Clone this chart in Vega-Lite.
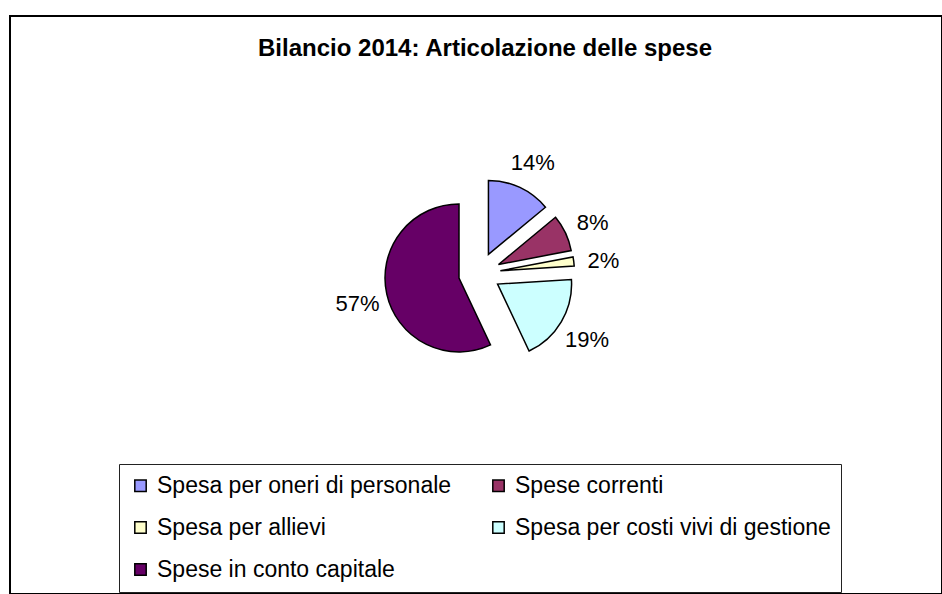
{
  "$schema": "https://vega.github.io/schema/vega-lite/v6.json",
  "width": 932,
  "height": 578,
  "autosize": {"type": "none"},
  "padding": {"left": 10, "top": 16, "right": 0, "bottom": 0},
  "background": "white",
  "config": {"view": {"stroke": "black", "strokeWidth": 2}},
  "title": {
    "text": "Bilancio 2014: Articolazione delle spese",
    "font": "Liberation Sans",
    "fontSize": 24,
    "fontWeight": "bold",
    "color": "black",
    "anchor": "middle",
    "baseline": "alphabetic",
    "offset": -64,
    "dx": 9
  },
  "data": {
    "values": [
      {"voce": "Spesa per oneri di personale", "quota": 0.14, "ordine": 1},
      {"voce": "Spese correnti", "quota": 0.08, "ordine": 2},
      {"voce": "Spesa per allievi", "quota": 0.02, "ordine": 3},
      {"voce": "Spesa per costi vivi di gestione", "quota": 0.19, "ordine": 4},
      {"voce": "Spese in conto capitale", "quota": 0.57, "ordine": 5}
    ]
  },
  "transform": [
    {"stack": "quota", "groupby": [], "sort": [{"field": "ordine", "order": "ascending"}], "as": ["q0", "q1"]},
    {"calculate": "PI*(datum.q0+datum.q1)", "as": "mid"},
    {"calculate": "0.21*sin(datum.mid)", "as": "ex"},
    {"calculate": "0.21*cos(datum.mid)", "as": "ey"},
    {"calculate": "1.25*sin(datum.mid)", "as": "lx"},
    {"calculate": "1.25*cos(datum.mid)", "as": "ly"}
  ],
  "layer": [
    {
      "mark": {"type": "arc", "outerRadius": 74, "stroke": "black", "strokeWidth": 1.5},
      "encoding": {
        "x": {"field": "ex", "type": "quantitative", "axis": null, "scale": {"domain": [-1, 1], "range": [369.5, 569.5], "nice": false, "zero": false}},
        "y": {"field": "ey", "type": "quantitative", "axis": null, "scale": {"domain": [-1, 1], "range": [357.4, 157.4], "nice": false, "zero": false}},
        "theta": {"field": "q0", "type": "quantitative", "stack": null, "scale": {"domain": [0, 1], "range": [0, 6.283185307]}},
        "theta2": {"field": "q1"},
        "color": {
          "field": "voce",
          "type": "nominal",
          "scale": {
            "domain": ["Spesa per oneri di personale", "Spese correnti", "Spesa per allievi", "Spesa per costi vivi di gestione", "Spese in conto capitale"],
            "range": ["#9999FF", "#993366", "#FFFFCC", "#CCFFFF", "#660066"]
          },
          "legend": {
            "orient": "none",
            "legendX": 109,
            "legendY": 448,
            "direction": "horizontal",
            "columns": 2,
            "title": null,
            "symbolType": "square",
            "symbolSize": 130,
            "symbolStrokeColor": "black",
            "symbolStrokeWidth": 1.5,
            "symbolOpacity": 1,
            "labelFont": "Liberation Sans",
            "labelFontSize": 23,
            "labelColor": "black",
            "labelOffset": 5,
            "labelLimit": 500,
            "rowPadding": 18,
            "columnPadding": 35,
            "padding": 10,
            "strokeColor": "#222222"
          }
        }
      }
    },
    {
      "mark": {"type": "text", "font": "Liberation Sans", "fontSize": 22, "color": "black", "dy": 3},
      "encoding": {
        "x": {"field": "lx", "type": "quantitative", "axis": null, "scale": {"domain": [-1, 1], "range": [369.5, 569.5], "nice": false, "zero": false}},
        "y": {"field": "ly", "type": "quantitative", "axis": null, "scale": {"domain": [-1, 1], "range": [357.4, 157.4], "nice": false, "zero": false}},
        "text": {"field": "quota", "type": "quantitative", "format": ".0%"}
      }
    }
  ]
}
